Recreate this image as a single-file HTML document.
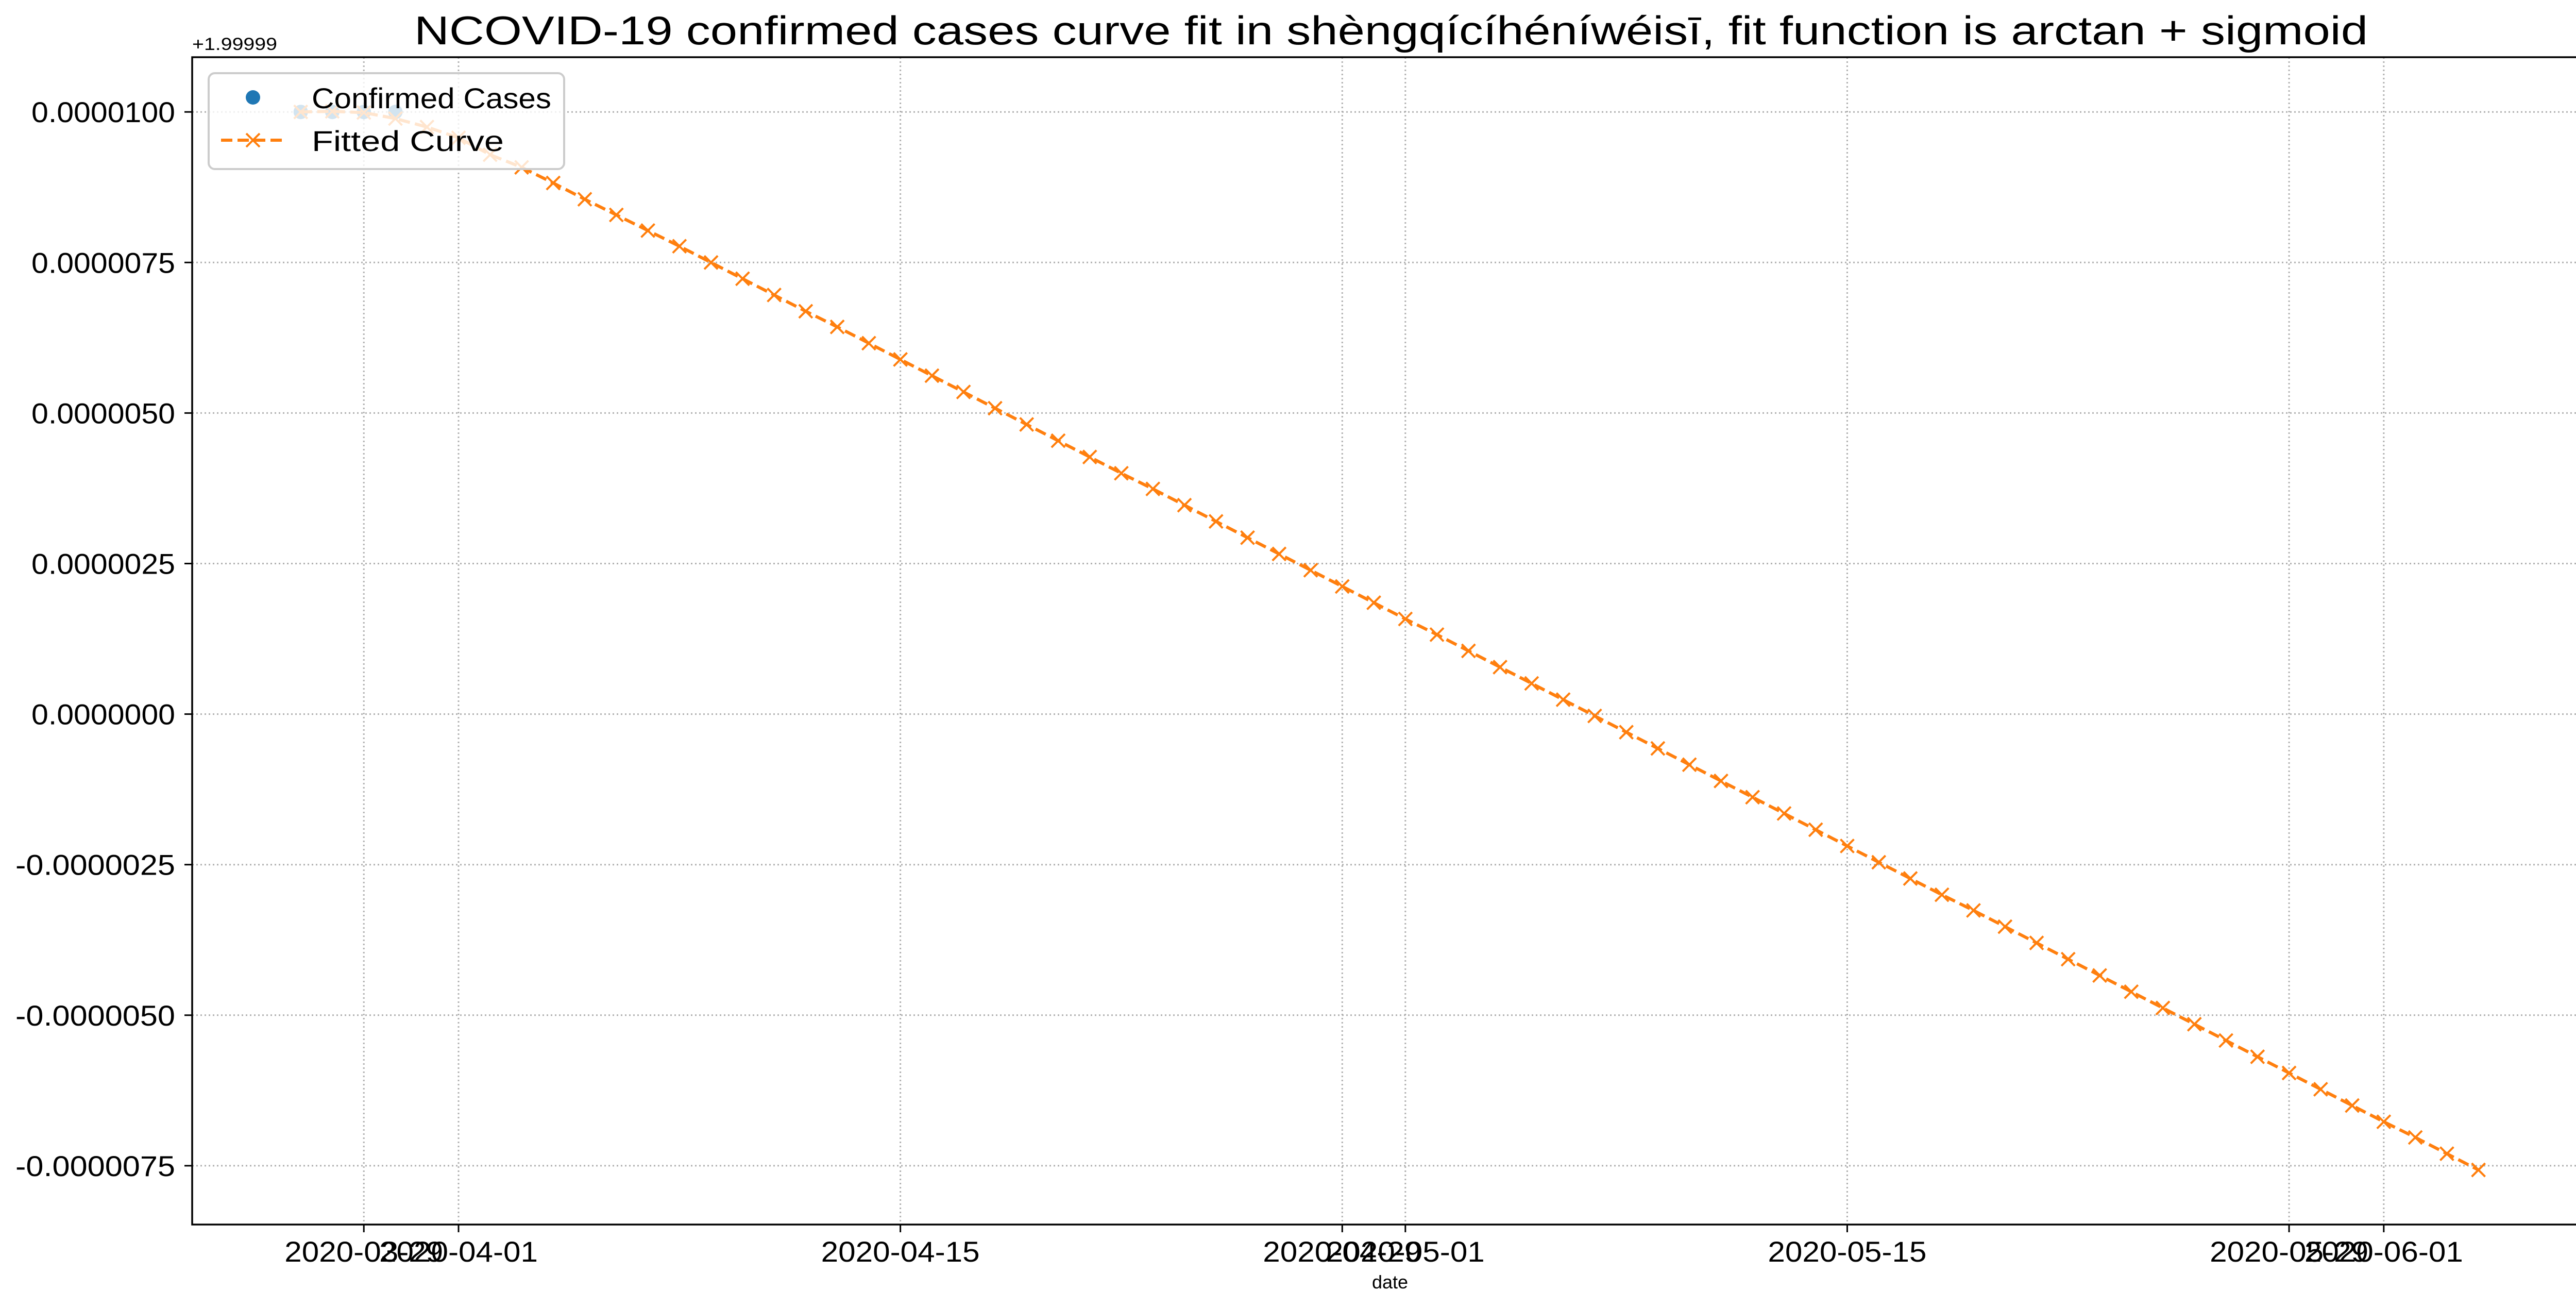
<!DOCTYPE html>
<html><head><meta charset="utf-8"><style>
html,body{margin:0;padding:0;background:#fff;}
svg{display:block;}
text{font-family:"Liberation Sans","WenQuanYi Zen Hei",sans-serif;fill:#000;}
</style></head><body>
<svg id="chart" width="5056" height="2536" viewBox="0 0 5056 2536" xmlns="http://www.w3.org/2000/svg">
<rect width="5056" height="2536" fill="#fff"/>
<text x="804" y="86" font-size="78" textLength="3792" lengthAdjust="spacingAndGlyphs">NCOVID-19 confirmed cases curve fit in shèngqícíhéníwéisī, fit function is arctan + sigmoid</text>
<text x="373" y="97" font-size="34" textLength="165" lengthAdjust="spacingAndGlyphs">+1.99999</text>
<g id="grid"></g>
<g id="marks"></g>
<rect x="373" y="111" width="4650" height="2265" fill="none" stroke="#000" stroke-width="3.5"/>
<g id="axes"></g>
<text x="2698" y="2500" font-size="36" text-anchor="middle">date</text>
<g>
<rect x="405" y="142" width="690" height="186" rx="12" fill="rgba(255,255,255,0.8)" stroke="#cccccc" stroke-width="4"/>
<circle cx="491" cy="189" r="14" fill="#1f77b4"/>
<text x="605" y="210" font-size="56" textLength="465" lengthAdjust="spacingAndGlyphs">Confirmed Cases</text>
<line x1="429" y1="272" x2="552" y2="272" stroke="#ff7f0e" stroke-width="6" stroke-dasharray="22,10"/>
<path d="M478,259 L504,285 M478,285 L504,259" stroke="#ff7f0e" stroke-width="4"/>
<text x="605" y="293" font-size="56" textLength="373" lengthAdjust="spacingAndGlyphs">Fitted Curve</text>
</g>
</svg>
<script>
const fittedStart = "2020-03-27";
const fittedValues = [10.0,10.01,9.99,9.89,9.75,9.57,9.29,9.08,8.82,8.55,8.29,8.03,7.77,
7.50,7.23,6.96,6.69,6.43,6.16,5.89,5.62,5.35,5.08,4.81,4.54,4.27,4.00,3.74,3.47,3.20,2.93,2.66,2.39,2.12,1.85,
1.58,1.32,1.05,0.78,0.51,0.24,-0.03,-0.30,-0.57,-0.84,-1.11,-1.38,-1.65,-1.92,-2.19,-2.46,-2.73,-3.00,-3.26,-3.53,
-3.80,-4.07,-4.34,-4.61,-4.88,-5.15,-5.42,-5.69,-5.96,-6.23,-6.50,-6.77,-7.03,-7.30,-7.57];
const confirmedDates = ["2020-03-27","2020-03-28","2020-03-29","2020-03-30"];
const confirmedValues = [10.0,10.0,10.0,10.0];
const yTicks = [10.0,7.5,5.0,2.5,0.0,-2.5,-5.0,-7.5];
const yTickLabels = ["0.0000100","0.0000075","0.0000050","0.0000025","0.0000000","-0.0000025","-0.0000050","-0.0000075"];
const xTicks = ["2020-03-29","2020-04-01","2020-04-15","2020-04-29","2020-05-01","2020-05-15","2020-05-29","2020-06-01"];

const NS="http://www.w3.org/2000/svg";
const DAY=86400000, T0=Date.UTC(2020,3,1);
function dayOf(s){const p=s.split("-");return (Date.UTC(+p[0],+p[1]-1,+p[2])-T0)/DAY;}
function xs(s){return 890+61.26*dayOf(s);}
function xd(d){return 890+61.26*d;}
function ys(v){return 1385.6-v/2.5*292.1;}
function mk(tag,attrs,parent){const e=document.createElementNS(NS,tag);for(const k in attrs)e.setAttribute(k,attrs[k]);parent.appendChild(e);return e;}
const grid=document.getElementById('grid'),marks=document.getElementById('marks'),axes=document.getElementById('axes');

yTicks.forEach((v,i)=>{
  const y=ys(v);
  const g=mk('line',{x1:373,x2:5023,y1:y,y2:y,stroke:'#b0b0b0','stroke-width':3,'stroke-dasharray':'3,5'},grid);
  
  
  const t=mk('line',{x1:358,x2:373,y1:y,y2:y,stroke:'#000','stroke-width':3},axes);
  
  
  const lab=yTickLabels[i];
  const w=lab.length*31;
  const tx=mk('text',{x:340-w,y:y+20,'font-size':56,textLength:w,lengthAdjust:'spacingAndGlyphs'},axes);
  tx.textContent=lab;
  
  
});
xTicks.forEach(s=>{
  const x=xs(s);
  const g=mk('line',{x1:x,x2:x,y1:111,y2:2376,stroke:'#b0b0b0','stroke-width':3,'stroke-dasharray':'3,5'},grid);
  
  
  const t=mk('line',{x1:x,x2:x,y1:2376,y2:2391,stroke:'#000','stroke-width':3},axes);
  
  
  const tx=mk('text',{x:x-154,y:2448,'font-size':56,textLength:308,lengthAdjust:'spacingAndGlyphs'},axes);
  tx.textContent=s;
  
  
});
confirmedDates.forEach((s,i)=>{
  const c=mk('circle',{cx:xs(s),cy:ys(confirmedValues[i]),r:14,fill:'#1f77b4'},marks);
  
  
});
const d0=dayOf(fittedStart);
const pts=fittedValues.map((v,i)=>[xd(d0+i),ys(v)]);
const line=mk('polyline',{points:pts.map(p=>p.join(',')).join(' '),fill:'none',stroke:'#ff7f0e','stroke-width':6,'stroke-dasharray':'22,10'},marks);


pts.forEach(p=>{
  const m=mk('path',{d:`M${p[0]-13},${p[1]-13} L${p[0]+13},${p[1]+13} M${p[0]-13},${p[1]+13} L${p[0]+13},${p[1]-13}`,stroke:'#ff7f0e','stroke-width':4},marks);
  
  
});
</script>
</body></html>
